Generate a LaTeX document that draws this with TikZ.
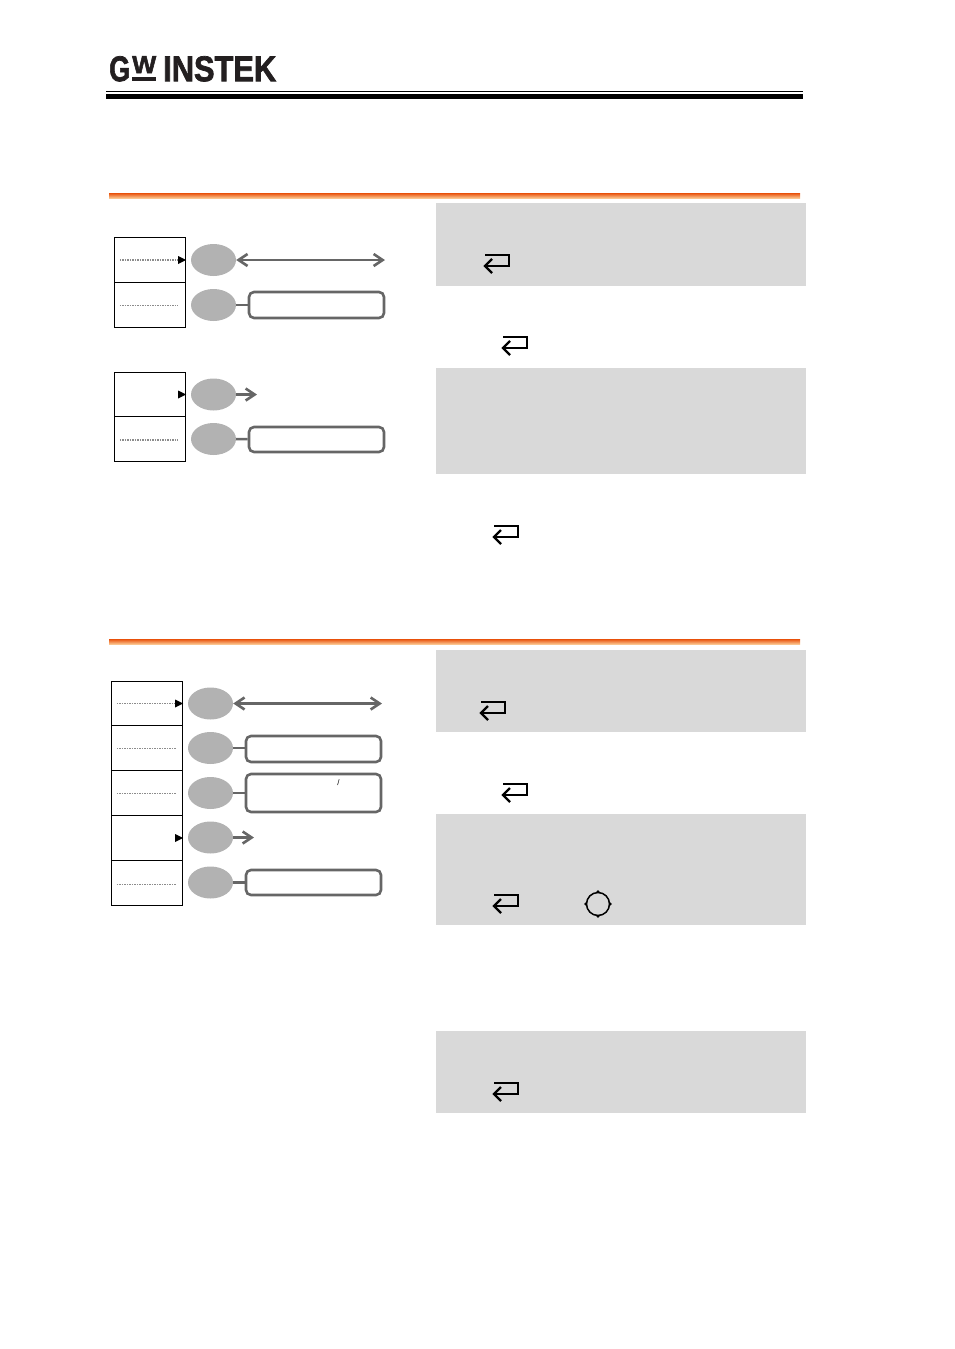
\documentclass[tikz,border=0pt]{standalone}
\usepackage{fontspec}
\setmainfont{Liberation Sans}
\newfontfamily\logofont[FakeBold=2]{Liberation Sans Bold}
\usepackage{tikz}
\usetikzlibrary{shapes.geometric}
\usetikzlibrary{arrows.meta}
\definecolor{lnk}{HTML}{666666}
\definecolor{btn}{HTML}{B2B2B2}
\definecolor{pane}{HTML}{D9D9D9}
\definecolor{logo}{HTML}{231F20}
\definecolor{ruletop}{HTML}{E8500A}
\definecolor{rulelow}{HTML}{FBC48E}
\tikzset{
  cell/.style={draw=black, line width=1.1pt, minimum width=71pt, minimum height=45pt, inner sep=0pt},
  btnkey/.style={ellipse, fill=btn, minimum width=45pt, minimum height=32pt, inner sep=0pt},
  field/.style={draw=lnk, line width=2.6pt, rounded corners=5pt, minimum width=135pt, inner sep=0pt, fill=white},
  link/.style={draw=lnk, line width=2.6pt, >={Straight Barb[length=9pt,width=12pt,line width=2.6pt]}},
  dots/.style={draw=black!45, line width=1.2pt, dash pattern=on 1.5pt off 1pt},
  tip/.style={fill=black},
  pane/.style={fill=pane},
  rule/.style={top color=ruletop, middle color=ruletop, bottom color=rulelow},
  retkey/.pic={
    \draw[black, line width=2.2pt] (-12,-8) -- (12,-8) -- (12,3) -- (-12,3);
    \draw[black, line width=2.2pt] (-5,-4) -- (-12,3) -- (-5,10);
  }
}
\begin{document}
\begin{tikzpicture}[x=1pt, y=-1pt]
\useasboundingbox (0,0) rectangle (954,1349);
% header
\node[inner sep=0pt, text=logo, anchor=north west] (g) at (109,56) {\resizebox{21pt}{25pt}{\logofont G}};
\node[inner sep=0pt, text=logo, anchor=north west] (w) at (132,56) {\resizebox{24pt}{17pt}{\logofont W}};
\node[inner sep=0pt, text=logo, anchor=north west] (i) at (163,56) {\resizebox{113pt}{25pt}{\logofont INSTEK}};
\fill[logo] (132,77) rectangle (156,81);
\fill[black] (106,91.2) rectangle (803,92.4);
\fill[black] (106,94) rectangle (803,99);
\shade[rule] (109,193) rectangle (800,198);
\shade[rule] (109,639) rectangle (800,644);
% panes
\fill[pane] (436,203) rectangle (806,286);
\fill[pane] (436,368) rectangle (806,474);
\fill[pane] (436,650) rectangle (806,732);
\fill[pane] (436,814) rectangle (806,925);
\fill[pane] (436,1031) rectangle (806,1113);
% first menu
\node[cell] (a1) at (150,260) {};
\node[cell] (a2) at (150,305) {};
\node[btnkey] (b1) at (213.5,260) {};
\node[btnkey] (b2) at (213.5,305) {};
\coordinate (e1) at (385,260);
\node[field, minimum height=26pt] (f2) at (316.5,305) {};
\draw[link, <->] (b1) -- (e1);
\draw[link] (b2) -- (f2);
\draw[dots] (a1.west) ++(6,0) -- ++(58,0);
\draw[dots, line width=0.8pt] (a2.west) ++(6,0) -- ++(58,0);
\fill[tip] (a1.east) -- ++(-8,-4) -- ++(0,8) -- cycle;
% second menu
\node[cell, minimum height=44pt] (a3) at (150,394.5) {};
\node[cell] (a4) at (150,439) {};
\node[btnkey] (b3) at (213.5,394.5) {};
\node[btnkey] (b4) at (213.5,439) {};
\coordinate (e3) at (257,394.5);
\node[field, minimum height=25pt] (f4) at (316.5,439.5) {};
\draw[link, ->] (b3) -- (e3);
\draw[link] (b4) -- (f4);
\draw[dots] (a4.west) ++(6,1) -- ++(58,0);
\fill[tip] (a3.east) -- ++(-8,-4) -- ++(0,8) -- cycle;
% third menu
\node[cell, minimum height=44pt] (c1) at (147,703.5) {};
\node[cell] (c2) at (147,748) {};
\node[cell] (c3) at (147,793) {};
\node[cell] (c4) at (147,838) {};
\node[cell] (c5) at (147,883) {};
\node[btnkey] (d1) at (210.5,703.5) {};
\node[btnkey] (d2) at (210.5,748) {};
\node[btnkey] (d3) at (210.5,793) {};
\node[btnkey] (d4) at (210.5,837.5) {};
\node[btnkey] (d5) at (210.5,882.5) {};
\coordinate (k1) at (382,703.5);
\coordinate (k4) at (254,837.5);
\node[field, minimum height=26pt] (h2) at (313.5,749) {};
\node[field, minimum height=38pt] (h3) at (313.5,793) {};
\node[field, minimum height=25pt] (h5) at (313.5,882.5) {};
\node[inner sep=0pt, font=\footnotesize] (s) at (338.5,783) {/};
\draw[link, <->, line width=3.2pt] (d1) -- (k1);
\draw[link] (d2) -- (h2.west |- d2);
\draw[link] (d3) -- (h3);
\draw[link, ->] (d4) -- (k4);
\draw[link, line width=3.2pt] (d5) -- (h5);
\foreach \n/\dy in {c1/0,c2/0,c3/0,c5/1}
  \draw[dots, line width=0.8pt] (\n.west) ++(6,\dy) -- ++(59,0);
\fill[tip] (c1.east) -- ++(-8,-4) -- ++(0,8) -- cycle;
\fill[tip] (c4.east) -- ++(-8,-4) -- ++(0,8) -- cycle;
% return keys
\foreach \x/\y in {497/263,515/345,506/534,493/710,515/792,506/903,506/1091}
  \pic at (\x,\y) {retkey};
% knob
\node[circle, draw=black, line width=1.5pt, minimum size=23pt, inner sep=0pt] (kn) at (598,904) {};
\foreach \a in {north,south,east,west}
  \fill[black] (kn.\a) circle (1.7pt);
\end{tikzpicture}
\end{document}
